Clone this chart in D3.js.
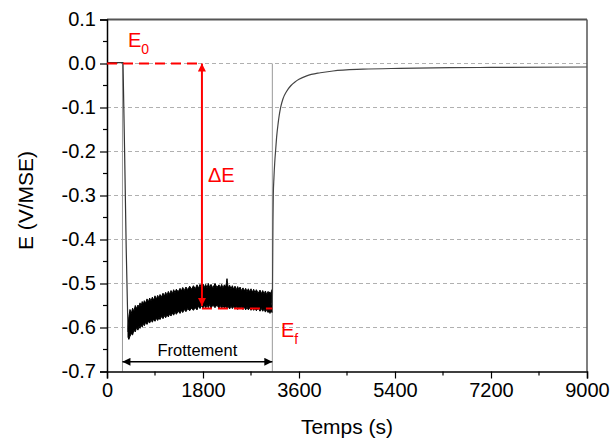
<!DOCTYPE html>
<html>
<head>
<meta charset="utf-8">
<script src="https://cdn.jsdelivr.net/npm/d3@7"></script>
<style>
html,body{margin:0;padding:0;background:#fff;}
svg{display:block;font-family:Arial,"Liberation Sans",sans-serif;}
</style>
</head>
<body>
<svg id="chart" width="611" height="441"></svg>
<script>
// ---- data ----
const xTicks = [0, 1800, 3600, 5400, 7200, 9000];
const yTicks = [0.1, 0.0, -0.1, -0.2, -0.3, -0.4, -0.5, -0.6, -0.7];
const yGrid = [0.0, -0.1, -0.2, -0.3, -0.4, -0.5, -0.6];

// before friction + drop
const tPre = [0, 300, 330, 360, 394];
const ePre = [0.002, 0.002, -0.2, -0.42, -0.61];

// noisy friction band (upper / lower envelope)
const tBand = [394, 410, 431, 455, 480, 505, 530, 555, 580, 600, 619, 640, 660, 680, 700, 725, 750, 775, 800, 825, 850, 875, 900, 925, 950, 975, 994, 1020, 1050, 1075, 1100, 1125, 1150, 1175, 1200, 1225, 1250, 1275, 1300, 1335, 1369, 1395, 1420, 1450, 1480, 1515, 1550, 1585, 1620, 1655, 1688, 1715, 1744, 1770, 1800, 1825, 1850, 1875, 1900, 1925, 1950, 1985, 2025, 2060, 2100, 2125, 2150, 2175, 2200, 2225, 2240, 2250, 2260, 2275, 2300, 2325, 2350, 2375, 2400, 2425, 2450, 2475, 2494, 2520, 2550, 2575, 2600, 2625, 2650, 2675, 2700, 2725, 2750, 2775, 2800, 2835, 2869, 2895, 2920, 2945, 2970, 2995, 3020, 3040, 3056, 3075, 3094];
const eUpper = [-0.600, -0.575, -0.559, -0.568, -0.556, -0.563, -0.550, -0.557, -0.549, -0.553, -0.544, -0.551, -0.541, -0.547, -0.539, -0.545, -0.535, -0.542, -0.533, -0.540, -0.531, -0.538, -0.528, -0.536, -0.527, -0.533, -0.525, -0.531, -0.522, -0.529, -0.520, -0.527, -0.518, -0.525, -0.516, -0.523, -0.514, -0.521, -0.513, -0.519, -0.511, -0.517, -0.509, -0.516, -0.508, -0.514, -0.506, -0.513, -0.505, -0.512, -0.503, -0.511, -0.502, -0.510, -0.501, -0.509, -0.502, -0.510, -0.500, -0.509, -0.502, -0.510, -0.500, -0.509, -0.503, -0.510, -0.502, -0.511, -0.503, -0.508, -0.498, -0.489, -0.500, -0.510, -0.504, -0.512, -0.505, -0.513, -0.506, -0.514, -0.507, -0.515, -0.508, -0.516, -0.510, -0.517, -0.511, -0.518, -0.512, -0.519, -0.512, -0.520, -0.513, -0.521, -0.514, -0.522, -0.515, -0.523, -0.516, -0.524, -0.517, -0.525, -0.518, -0.522, -0.519, -0.526, -0.514];
const eLower = [-0.622, -0.627, -0.620, -0.614, -0.617, -0.606, -0.610, -0.600, -0.606, -0.598, -0.602, -0.594, -0.599, -0.591, -0.596, -0.588, -0.593, -0.586, -0.590, -0.583, -0.588, -0.581, -0.586, -0.579, -0.584, -0.577, -0.582, -0.575, -0.580, -0.573, -0.578, -0.571, -0.576, -0.569, -0.574, -0.567, -0.572, -0.565, -0.570, -0.563, -0.568, -0.561, -0.566, -0.559, -0.564, -0.557, -0.562, -0.556, -0.561, -0.555, -0.560, -0.551, -0.557, -0.550, -0.556, -0.549, -0.556, -0.549, -0.555, -0.548, -0.556, -0.549, -0.555, -0.549, -0.556, -0.550, -0.557, -0.550, -0.556, -0.551, -0.557, -0.551, -0.557, -0.552, -0.558, -0.551, -0.557, -0.552, -0.558, -0.552, -0.559, -0.553, -0.558, -0.553, -0.559, -0.554, -0.560, -0.554, -0.560, -0.555, -0.561, -0.555, -0.561, -0.556, -0.562, -0.556, -0.563, -0.557, -0.563, -0.558, -0.565, -0.559, -0.566, -0.560, -0.568, -0.559, -0.566];

// recovery after friction
const tRec = [3094, 3100, 3104, 3108, 3112, 3118, 3130, 3145, 3163, 3180, 3210, 3230, 3257, 3300, 3369, 3450, 3525, 3600, 3744, 4000, 4238, 4800, 5494, 6431, 7200, 9000];
const eRec = [-0.545, -0.55, -0.50, -0.43, -0.36, -0.30, -0.26, -0.225, -0.195, -0.168, -0.135, -0.117, -0.099, -0.080, -0.063, -0.050, -0.042, -0.036, -0.028, -0.021, -0.017, -0.013, -0.011, -0.0095, -0.009, -0.008];

// annotation values
const E0 = 0.0;
const Ef = -0.557;
const tArrow = 1780;
const tStart = 290;
const tEnd = 3100;
const eFrott = -0.678;
const eArrowTip = -0.551;

// ---- layout ----
const svg = d3.select("#chart");
const L = 107, R = 587, T = 19.5, B = 371.5;
const x = d3.scaleLinear().domain([0, 9000]).range([L, R]);
const y = d3.scaleLinear().domain([-0.7, 0.1]).range([B, T]);

// gridlines
svg.append("g").selectAll("line").data(yGrid).join("line")
  .attr("x1", L).attr("x2", R)
  .attr("y1", d => y(d)).attr("y2", d => y(d))
  .attr("stroke", "#b0b0b0").attr("stroke-width", 1).attr("stroke-dasharray", "4,3");

// vertical friction markers
svg.append("g").selectAll("line").data([tStart, tEnd]).join("line")
  .attr("x1", d => x(d)).attr("x2", d => x(d))
  .attr("y1", y(0)).attr("y2", B)
  .attr("stroke", "#999").attr("stroke-width", 1);

// data
const line = d3.line().x(d => x(d[0])).y(d => y(d[1]));
svg.append("path").datum(tPre.map((t, i) => [t, ePre[i]]))
  .attr("d", line).attr("fill", "none").attr("stroke", "#333").attr("stroke-width", 1.2);

const area = d3.area().x(d => x(d[0])).y0(d => y(d[2])).y1(d => y(d[1]));
const bandData = tBand.map((t, i) => [t, eUpper[i], eLower[i]]);
svg.append("path").datum(bandData)
  .attr("d", area).attr("fill", "#000").attr("stroke", "#000").attr("stroke-width", 1);

svg.append("path").datum(tRec.map((t, i) => [t, eRec[i]]))
  .attr("d", d3.line().x(d => x(d[0])).y(d => y(d[1])).curve(d3.curveMonotoneX))
  .attr("fill", "none").attr("stroke", "#444").attr("stroke-width", 1.2);

// frame top/right
svg.append("line").attr("x1", L).attr("x2", R).attr("y1", T).attr("y2", T)
  .attr("stroke", "#555").attr("stroke-width", 2);
svg.append("line").attr("x1", R).attr("x2", R).attr("y1", T).attr("y2", B)
  .attr("stroke", "#555").attr("stroke-width", 1.5);

// axes
const xAxis = d3.axisBottom(x).tickValues(xTicks).tickSize(7).tickPadding(4).tickFormat(d3.format("d"));
const gx = svg.append("g").attr("transform", `translate(0,${B})`).call(xAxis);
const yAxis = d3.axisLeft(y).tickValues(yTicks).tickSize(7).tickPadding(4).tickFormat(d3.format(".1f"));
const gy = svg.append("g").attr("transform", `translate(${L},0)`).call(yAxis);
[gx, gy].forEach(g => {
  g.select(".domain").attr("stroke", "#000").attr("stroke-width", 1.5);
  g.selectAll(".tick line").attr("stroke", "#000").attr("stroke-width", 1.2);
  g.selectAll(".tick text").attr("fill", "#000").attr("font-size", 20)
   .attr("font-family", "Arial, 'Liberation Sans', sans-serif");
});
gy.selectAll(".tick text").text(d => d3.format(".1f")(d).replace("−", "-"));

// minor ticks
const xMinor = d3.range(900, 9000, 1800);
svg.append("g").selectAll("line").data(xMinor).join("line")
  .attr("x1", d => x(d)).attr("x2", d => x(d)).attr("y1", B).attr("y2", B + 4)
  .attr("stroke", "#000").attr("stroke-width", 1.2);
const yMinor = d3.range(-0.65, 0.1, 0.1);
svg.append("g").selectAll("line").data(yMinor).join("line")
  .attr("x1", L - 4).attr("x2", L).attr("y1", d => y(d)).attr("y2", d => y(d))
  .attr("stroke", "#000").attr("stroke-width", 1.2);

// axis titles
svg.append("text").attr("x", (L + R) / 2).attr("y", 434).attr("text-anchor", "middle")
  .attr("font-size", 21).attr("fill", "#000").text("Temps (s)");
svg.append("text").attr("transform", `translate(33,${(T + B) / 2 + 5}) rotate(-90)`)
  .attr("text-anchor", "middle").attr("font-size", 21).attr("fill", "#000").text("E (V/MSE)");

// markers
const defs = svg.append("defs");
function marker(id, color) {
  defs.append("marker").attr("id", id).attr("viewBox", "0 0 10 10")
    .attr("refX", 10).attr("refY", 5).attr("markerWidth", 10).attr("markerHeight", 8)
    .attr("markerUnits", "userSpaceOnUse").attr("orient", "auto-start-reverse")
    .append("path").attr("d", "M0,0 L10,5 L0,10 Z").attr("fill", color);
}
marker("arrRed", "#ff0000");
marker("arrBlack", "#000");

// red annotations
const red = "#ff0000";
svg.append("line").attr("x1", x(0)).attr("x2", x(tArrow)).attr("y1", y(E0)).attr("y2", y(E0))
  .attr("stroke", red).attr("stroke-width", 2).attr("stroke-dasharray", "10,6");
svg.append("line").attr("x1", x(tArrow)).attr("x2", x(tEnd)).attr("y1", y(Ef)).attr("y2", y(Ef))
  .attr("stroke", red).attr("stroke-width", 2).attr("stroke-dasharray", "10,6");
svg.append("line").attr("x1", x(tArrow)).attr("x2", x(tArrow))
  .attr("y1", y(E0)).attr("y2", y(eArrowTip))
  .attr("stroke", red).attr("stroke-width", 2)
  .attr("marker-start", "url(#arrRed)").attr("marker-end", "url(#arrRed)");

const e0 = svg.append("text").attr("x", 128).attr("y", 47).attr("fill", red).attr("font-size", 20);
e0.append("tspan").text("E");
e0.append("tspan").attr("font-size", 14).attr("dy", 7).text("0");

svg.append("text").attr("x", 208).attr("y", 182).attr("fill", red).attr("font-size", 20).text("ΔE");

const ef = svg.append("text").attr("x", 281).attr("y", 337).attr("fill", red).attr("font-size", 20);
ef.append("tspan").text("E");
ef.append("tspan").attr("font-size", 14).attr("dy", 7).text("f");

// friction arrow
svg.append("line").attr("x1", x(tStart)).attr("x2", x(tEnd)).attr("y1", y(eFrott)).attr("y2", y(eFrott))
  .attr("stroke", "#000").attr("stroke-width", 1.5)
  .attr("marker-start", "url(#arrBlack)").attr("marker-end", "url(#arrBlack)");
svg.append("text").attr("x", (x(tStart) + x(tEnd)) / 2).attr("y", 356).attr("text-anchor", "middle")
  .attr("font-size", 16.5).attr("fill", "#000").text("Frottement");
</script>
</body>
</html>
